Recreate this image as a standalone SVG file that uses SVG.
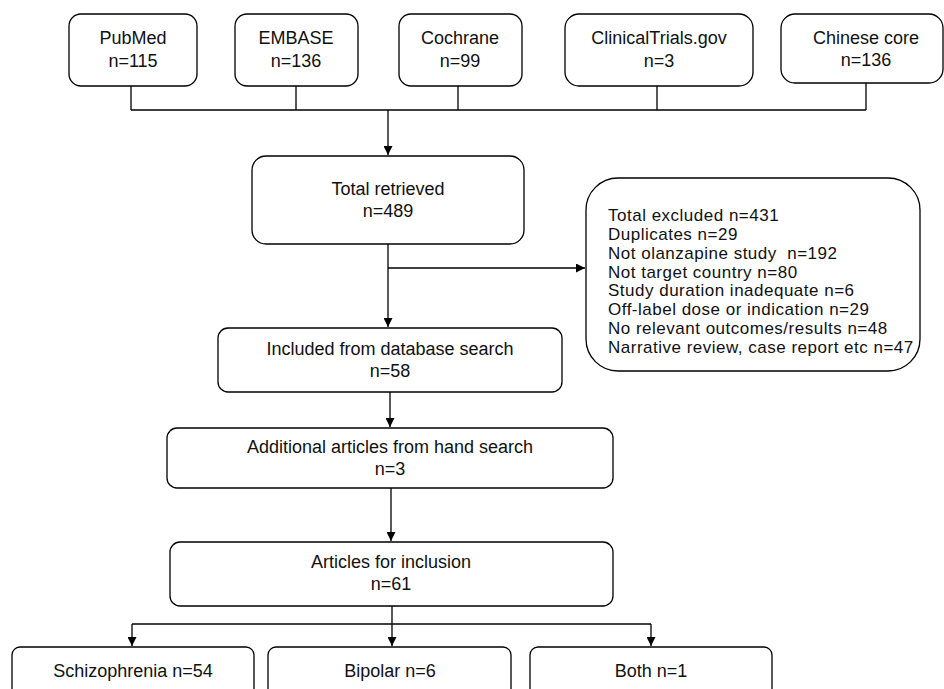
<svg xmlns="http://www.w3.org/2000/svg" width="944" height="689" viewBox="0 0 944 689">
<defs>
<style>
.box{fill:#fff;stroke:#000;stroke-width:1.3}
.t{font-family:"Liberation Sans",Arial,sans-serif;font-size:18px;fill:#111;text-anchor:middle}
.tl{font-family:"Liberation Sans",Arial,sans-serif;font-size:17px;letter-spacing:0.5px;fill:#111}
.c{fill:none;stroke:#000;stroke-width:1.3}
</style>
<marker id="ah" viewBox="0 0 10 10" refX="10" refY="5" markerWidth="9" markerHeight="9" markerUnits="userSpaceOnUse" orient="auto">
<path d="M0,0 L10,5 L0,10 z" fill="#000"/>
</marker>
</defs>
<rect width="944" height="689" fill="#fff"/>
<g id="connectors">
<path class="c" d="M131,86 V110 M296,86 V110 M458,86 V110 M657,86 V110 M866,83 V110 M131,110 H866"/>
<path class="c" d="M388,110 V155" marker-end="url(#ah)"/>
<path class="c" d="M388,244 V327" marker-end="url(#ah)"/>
<path class="c" d="M388,268 H585" marker-end="url(#ah)"/>
<path class="c" d="M390,392 V427" marker-end="url(#ah)"/>
<path class="c" d="M391,488 V541" marker-end="url(#ah)"/>
<path class="c" d="M392,606 V646" marker-end="url(#ah)"/>
<path class="c" d="M132,624 H651"/>
<path class="c" d="M132,624 V646" marker-end="url(#ah)"/>
<path class="c" d="M651,624 V646" marker-end="url(#ah)"/>
</g>
<g id="pubmed"><rect class="box" x="69" y="14" width="128" height="72" rx="12"/><text class="t" x="133" y="44">PubMed</text><text class="t" x="133" y="67">n=115</text></g>
<g id="embase"><rect class="box" x="235" y="14" width="123" height="72" rx="12"/><text class="t" x="296" y="44">EMBASE</text><text class="t" x="296" y="67">n=136</text></g>
<g id="cochrane"><rect class="box" x="399" y="14" width="123" height="72" rx="12"/><text class="t" x="460" y="44">Cochrane</text><text class="t" x="460" y="67">n=99</text></g>
<g id="clinicaltrials"><rect class="box" x="565" y="14" width="188" height="72" rx="14"/><text class="t" x="659" y="44">ClinicalTrials.gov</text><text class="t" x="659" y="67">n=3</text></g>
<g id="chinese"><rect class="box" x="781" y="14" width="162" height="69" rx="14"/><text class="t" x="866" y="44">Chinese core</text><text class="t" x="866" y="66">n=136</text></g>
<g id="total"><rect class="box" x="252" y="156" width="272" height="88" rx="14"/><text class="t" x="388" y="195">Total retrieved</text><text class="t" x="388" y="217">n=489</text></g>
<g id="excluded"><rect class="box" x="586" y="178" width="334" height="193" rx="32"/>
<text class="tl" x="608" y="221">Total excluded n=431</text>
<text class="tl" x="608" y="240">Duplicates n=29</text>
<text class="tl" x="608" y="259" xml:space="preserve">Not olanzapine study  n=192</text>
<text class="tl" x="608" y="278">Not target country n=80</text>
<text class="tl" x="608" y="296">Study duration inadequate n=6</text>
<text class="tl" x="608" y="315">Off-label dose or indication n=29</text>
<text class="tl" x="608" y="334">No relevant outcomes/results n=48</text>
<text class="tl" x="608" y="353">Narrative review, case report etc n=47</text></g>
<g id="included"><rect class="box" x="218" y="328" width="344" height="64" rx="10"/><text class="t" x="390" y="355">Included from database search</text><text class="t" x="390" y="377">n=58</text></g>
<g id="additional"><rect class="box" x="167" y="428" width="446" height="60" rx="10"/><text class="t" x="390" y="453">Additional articles from hand search</text><text class="t" x="390" y="475">n=3</text></g>
<g id="articles"><rect class="box" x="170" y="542" width="443" height="64" rx="10"/><text class="t" x="391" y="568">Articles for inclusion</text><text class="t" x="391" y="590">n=61</text></g>
<g id="schizophrenia"><rect class="box" x="12" y="647" width="242" height="60" rx="8"/><text class="t" x="133" y="677">Schizophrenia n=54</text></g>
<g id="bipolar"><rect class="box" x="268" y="647" width="243" height="60" rx="8"/><text class="t" x="390" y="677">Bipolar n=6</text></g>
<g id="both"><rect class="box" x="530" y="647" width="242" height="60" rx="8"/><text class="t" x="651" y="677">Both n=1</text></g>
</svg>
